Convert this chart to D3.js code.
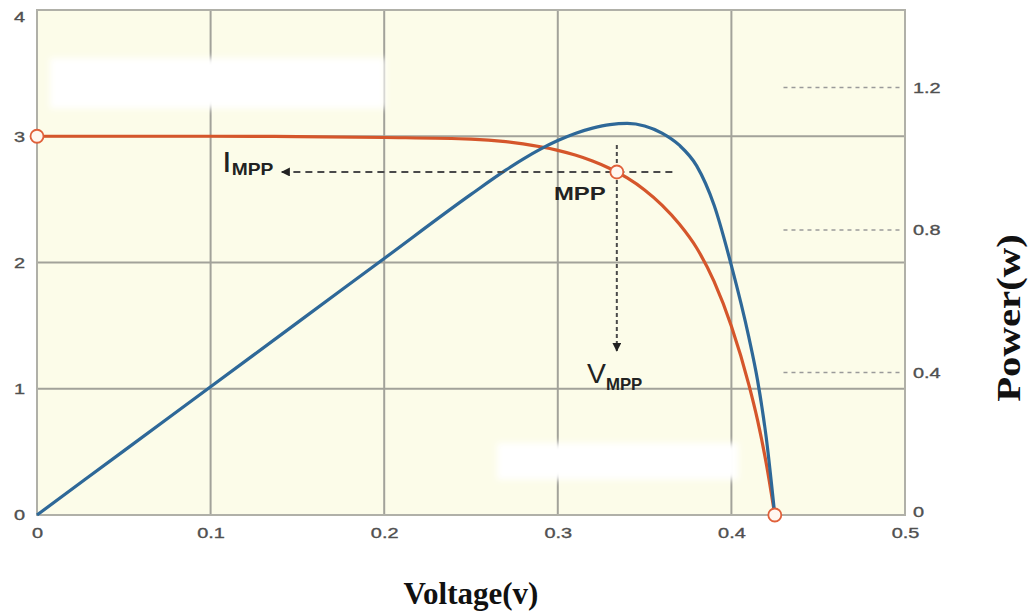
<!DOCTYPE html>
<html>
<head>
<meta charset="utf-8">
<script src="https://cdn.jsdelivr.net/npm/d3@7"></script>
<style>
  html, body { margin: 0; padding: 0; background: #ffffff; }
  svg { display: block; }
</style>
</head>
<body>
<svg id="chart" width="1028" height="615"></svg>
<script>
// I-V and P-V characteristics of a solar cell
const voltage = [0, 0.05, 0.1, 0.15, 0.2, 0.25, 0.27, 0.28, 0.29, 0.3, 0.31, 0.32, 0.33, 0.34, 0.35, 0.36, 0.37, 0.38, 0.39, 0.4, 0.41, 0.415, 0.42, 0.425];
const current = [3.0, 3.0, 3.0, 2.997, 2.99, 2.978, 2.958, 2.94, 2.917, 2.888, 2.851, 2.804, 2.745, 2.67, 2.575, 2.455, 2.305, 2.115, 1.85, 1.495, 1.035, 0.755, 0.415, 0];
const power   = [0, 0.18, 0.36, 0.54, 0.72, 0.90, 0.968, 0.999, 1.027, 1.051, 1.071, 1.086, 1.096, 1.099, 1.092, 1.072, 1.038, 0.98, 0.87, 0.70, 0.50, 0.38, 0.22, 0];

const xTicks = [0, 0.1, 0.2, 0.3, 0.4, 0.5];
const currentTicks = [0, 1, 2, 3, 4];
const powerTicks = [0, 0.4, 0.8, 1.2];

// Key points: short-circuit, maximum power point, open-circuit
const markers = [
  { v: 0, i: 3.0 },
  { v: 0.334, i: 2.717 },
  { v: 0.425, i: 0 }
];
const mpp = { v: 0.334, i: 2.717 };

const svg = d3.select("#chart");
const plotLeft = 37, plotRight = 905, plotTop = 10, plotBottom = 515;
const stretch = 1.33;   // labels inside the figure are drawn wide

const x = d3.scaleLinear().domain([0, 0.5]).range([plotLeft, plotRight]);
const yI = d3.scaleLinear().domain([0, 4]).range([plotBottom, plotTop]);
const yP = d3.scaleLinear().domain([0, 1.4175]).range([plotBottom, plotTop]);

const defs = svg.append("defs");
defs.append("filter").attr("id", "soft")
  .attr("x", "-10%").attr("y", "-30%").attr("width", "120%").attr("height", "160%")
  .append("feGaussianBlur").attr("stdDeviation", 3);
defs.append("marker").attr("id", "arrow")
  .attr("viewBox", "0 0 10 10").attr("refX", 9).attr("refY", 5)
  .attr("markerWidth", 4.5).attr("markerHeight", 4.5).attr("orient", "auto")
  .attr("markerUnits", "strokeWidth")
  .append("path").attr("d", "M0,0 L10,5 L0,10 Z").attr("fill", "#222");

// plot background
svg.append("rect")
  .attr("x", plotLeft).attr("y", plotTop)
  .attr("width", plotRight - plotLeft).attr("height", plotBottom - plotTop)
  .attr("fill", "#fcfce9");

// grid
const gridColor = "#a2a29a";
svg.append("g").selectAll("line").data([0.1, 0.2, 0.3, 0.4]).join("line")
  .attr("x1", d => x(d)).attr("x2", d => x(d))
  .attr("y1", plotTop).attr("y2", plotBottom)
  .attr("stroke", gridColor).attr("stroke-width", 2);
svg.append("g").selectAll("line").data([1, 2, 3]).join("line")
  .attr("x1", plotLeft).attr("x2", plotRight)
  .attr("y1", d => yI(d)).attr("y2", d => yI(d))
  .attr("stroke", gridColor).attr("stroke-width", 2);

// frame
svg.append("rect")
  .attr("x", plotLeft).attr("y", plotTop)
  .attr("width", plotRight - plotLeft).attr("height", plotBottom - plotTop)
  .attr("fill", "none").attr("stroke", "#b0b0a8").attr("stroke-width", 2);

// blank label panels
const panels = [
  { v0: 0.0075, v1: 0.2005, i0: 3.22, i1: 3.62 },
  { v0: 0.265, v1: 0.404, i0: 0.28, i1: 0.57 }
];
svg.append("g").selectAll("rect").data(panels).join("rect")
  .attr("x", d => x(d.v0)).attr("y", d => yI(d.i1))
  .attr("width", d => x(d.v1) - x(d.v0)).attr("height", d => yI(d.i0) - yI(d.i1))
  .attr("fill", "#ffffff").attr("filter", "url(#soft)");

// right-axis dotted guides
svg.append("g").selectAll("line").data(powerTicks.filter(d => d > 0)).join("line")
  .attr("x1", x(0.43)).attr("x2", plotRight - 2)
  .attr("y1", d => yP(d)).attr("y2", d => yP(d))
  .attr("stroke", "#9a9a9a").attr("stroke-width", 1.6)
  .attr("stroke-dasharray", "4,4");

// axes
const tickFont = "'Liberation Sans', Arial, sans-serif";
const fmt = d => d === 0 ? "0" : d3.format(".1f")(d);
const xAxis = svg.append("g").attr("transform", `translate(0,${plotBottom})`)
  .call(d3.axisBottom(x).tickValues(xTicks).tickSize(0).tickPadding(12).tickFormat(fmt));
const yAxis = svg.append("g").attr("transform", `translate(${plotLeft},0)`)
  .call(d3.axisLeft(yI).tickValues(currentTicks).tickSize(0).tickPadding(12).tickFormat(d3.format("d")));
const pAxis = svg.append("g").attr("transform", `translate(${plotRight},0)`)
  .call(d3.axisRight(yP).tickValues(powerTicks).tickSize(0).tickPadding(8).tickFormat(fmt));
[xAxis, yAxis, pAxis].forEach(g => {
  g.select(".domain").remove();
  g.selectAll("text").attr("font-family", tickFont).attr("font-size", 15)
    .attr("fill", "#505050").attr("stroke", "#505050").attr("stroke-width", 0.35)
    .attr("transform", `scale(${stretch},1)`);
});
yAxis.selectAll("text").attr("x", -12 / stretch);
pAxis.selectAll("text").attr("x", 8 / stretch);
pAxis.selectAll(".tick").filter(d => d === 0).select("text").attr("dy", "0.1em");
yAxis.selectAll(".tick").filter(d => d === 4).select("text").attr("dy", "0.75em");

// curves
const curveGen = d3.curveMonotoneX;
const ivLine = d3.line().x((d, k) => x(voltage[k])).y(d => yI(d)).curve(curveGen);
const pvLine = d3.line().x((d, k) => x(voltage[k])).y(d => yP(d)).curve(curveGen);

svg.append("path").datum(current).attr("d", ivLine)
  .attr("fill", "none").attr("stroke", "#d5562b").attr("stroke-width", 3.2);
svg.append("path").datum(power).attr("d", pvLine)
  .attr("fill", "none").attr("stroke", "#2e6898").attr("stroke-width", 3.2);

// MPP guides
svg.append("line")
  .attr("x1", x(0.366)).attr("x2", x(0.141))
  .attr("y1", yI(mpp.i)).attr("y2", yI(mpp.i))
  .attr("stroke", "#4a4a4a").attr("stroke-width", 2).attr("stroke-dasharray", "7,5")
  .attr("marker-end", "url(#arrow)");
svg.append("line")
  .attr("x1", x(mpp.v)).attr("x2", x(mpp.v))
  .attr("y1", yI(2.93)).attr("y2", yI(1.3))
  .attr("stroke", "#4a4a4a").attr("stroke-width", 2).attr("stroke-dasharray", "4,3")
  .attr("marker-end", "url(#arrow)");

// key points
svg.append("g").selectAll("circle").data(markers).join("circle")
  .attr("cx", d => x(d.v)).attr("cy", d => yI(d.i)).attr("r", 6.5)
  .attr("fill", "#fff7f0").attr("stroke", "#e0603a").attr("stroke-width", 1.8);

// annotations
const ann = svg.append("g").attr("font-family", tickFont).attr("fill", "#222");
function label(px, py, s) {
  return ann.append("text").attr("transform", `translate(${px},${py}) scale(${s},1)`);
}
const iLab = label(222, 172, 1.2);
iLab.append("tspan").attr("font-size", 29).text("I");
iLab.append("tspan").attr("font-size", 16).attr("font-weight", "bold").attr("dy", 3).text("MPP");

label(x(mpp.v) - 37, yI(mpp.i) + 28, stretch).attr("font-size", 18).attr("font-weight", "bold")
  .attr("text-anchor", "middle").text("MPP");

const vLab = label(587, 383, 1.05);
vLab.append("tspan").attr("font-size", 27).text("V");
vLab.append("tspan").attr("font-size", 16).attr("font-weight", "bold").attr("dy", 7).text("MPP");

// axis titles
const titleFont = "'Liberation Serif', 'Times New Roman', serif";
svg.append("text").attr("x", 471).attr("y", 604)
  .attr("text-anchor", "middle").attr("font-family", titleFont)
  .attr("font-size", 31).attr("font-weight", "bold").attr("fill", "#111")
  .text("Voltage(v)");
svg.append("text")
  .attr("transform", "translate(1020,318) rotate(-90) scale(1.2,1)")
  .attr("text-anchor", "middle").attr("font-family", titleFont)
  .attr("font-size", 34).attr("font-weight", "bold").attr("fill", "#111")
  .text("Power(w)");
</script>
</body>
</html>
